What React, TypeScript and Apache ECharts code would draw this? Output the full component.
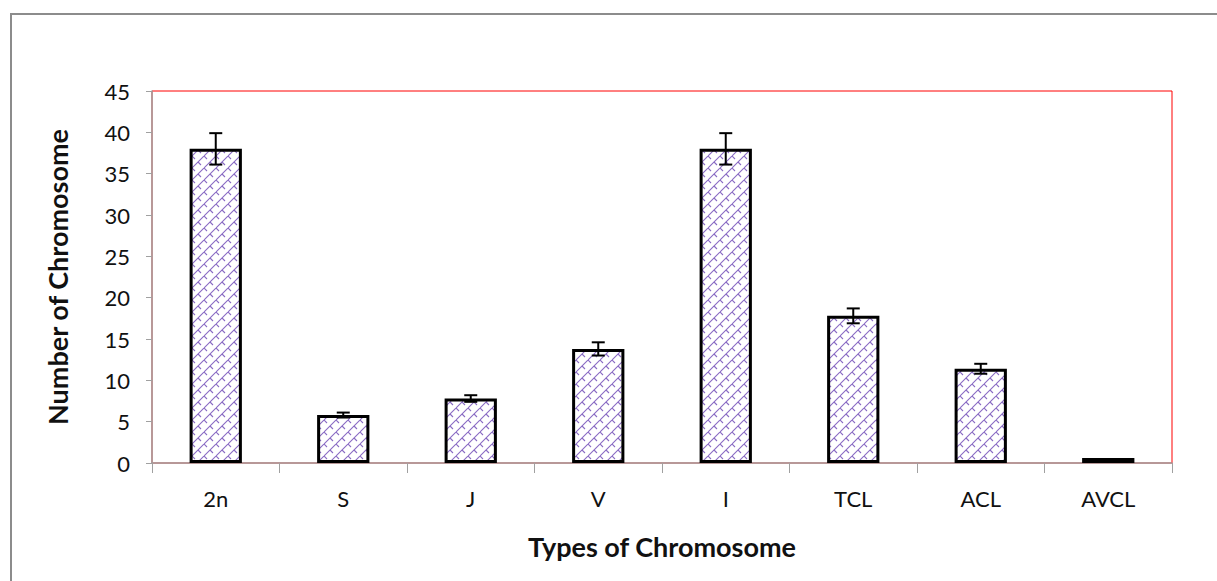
import React, { useEffect, useRef } from "react";
import * as echarts from "echarts";

const categories = ["2n", "S", "J", "V", "I", "TCL", "ACL", "AVCL"];
const values = [38, 5.8, 7.8, 13.8, 38, 17.8, 11.4, 0.6];
const errors = [1.9, 0.3, 0.4, 0.8, 1.9, 0.9, 0.6, 0];
const yTicks = { min: 0, max: 45, interval: 5 };

function makePattern(): string {
  const c = document.createElement("canvas");
  c.width = 12;
  c.height = 12;
  const ctx = c.getContext("2d")!;
  ctx.fillStyle = "#ffffff";
  ctx.fillRect(0, 0, 12, 12);
  ctx.strokeStyle = "#8a6cc4";
  ctx.lineWidth = 1.1;
  ctx.beginPath();
  ctx.moveTo(0, 12);
  ctx.lineTo(12, 0);
  ctx.moveTo(-6, 6);
  ctx.lineTo(0, 0);
  ctx.moveTo(12, 12);
  ctx.lineTo(18, 6);
  ctx.moveTo(6, 6);
  ctx.lineTo(9, 9);
  ctx.moveTo(0, 0);
  ctx.lineTo(3, 3);
  ctx.stroke();
  return c.toDataURL();
}

export default function App() {
  const ref = useRef<HTMLDivElement>(null);
  useEffect(() => {
    const chart = echarts.init(ref.current!, null, { renderer: "svg" });
    const pattern = makePattern();
    const font = "Lato, 'Open Sans', sans-serif";
    chart.setOption({
      animation: false,
      backgroundColor: "#ffffff",
      graphic: [
        {
          type: "rect",
          shape: { x: 11, y: 14, width: 1220, height: 600 },
          style: { fill: "none", stroke: "#8c8c8c", lineWidth: 2 },
          z: -10,
        },
      ],
      grid: {
        left: 152,
        top: 91,
        right: 45,
        bottom: 118,
        show: true,
        borderColor: "#ff0000",
        borderWidth: 1,
        backgroundColor: "transparent",
      },
      xAxis: {
        type: "category",
        data: categories,
        name: "Types of Chromosome",
        nameLocation: "middle",
        nameGap: 70,
        nameTextStyle: { fontFamily: font, fontSize: 27, fontWeight: "bold", color: "#111" },
        axisLine: { lineStyle: { color: "#a0a0a0", width: 1.5 } },
        axisTick: { show: true, alignWithLabel: false, length: 10, lineStyle: { color: "#a0a0a0" } },
        axisLabel: { fontFamily: font, fontSize: 22, color: "#111", margin: 24 },
      },
      yAxis: {
        type: "value",
        min: yTicks.min,
        max: yTicks.max,
        interval: yTicks.interval,
        name: "Number of Chromosome",
        nameLocation: "middle",
        nameGap: 81,
        nameRotate: 90,
        nameTextStyle: { fontFamily: font, fontSize: 27, fontWeight: "bold", color: "#111" },
        splitLine: { show: false },
        axisLine: { show: true, lineStyle: { color: "#a0a0a0", width: 1.5 } },
        axisTick: { show: true, length: 6, lineStyle: { color: "#a0a0a0" } },
        axisLabel: { fontFamily: font, fontSize: 22, color: "#111", margin: 22 },
      },
      series: [
        {
          type: "bar",
          data: values,
          barWidth: "41%",
          itemStyle: {
            color: { image: pattern, repeat: "repeat" },
            borderColor: "#000",
            borderWidth: 3,
          },
        },
        {
          type: "custom",
          data: values.map((v, i) => [i, v, errors[i]]),
          z: 10,
          renderItem: (params: any, api: any) => {
            const i = api.value(0);
            const v = api.value(1);
            const e = api.value(2);
            if (!e) return null;
            const top = api.coord([i, v + e]);
            const bot = api.coord([i, v - e]);
            const hw = 6.5;
            const style = { stroke: "#000", lineWidth: 2 };
            return {
              type: "group",
              children: [
                { type: "line", shape: { x1: top[0], y1: top[1], x2: bot[0], y2: bot[1] }, style },
                { type: "line", shape: { x1: top[0] - hw, y1: top[1], x2: top[0] + hw, y2: top[1] }, style },
                { type: "line", shape: { x1: bot[0] - hw, y1: bot[1], x2: bot[0] + hw, y2: bot[1] }, style },
              ],
            };
          },
        },
      ],
    });
    return () => chart.dispose();
  }, []);
  return (
    <div
      ref={ref}
      style={{ position: "fixed", left: 0, top: 0, width: 1217, height: 581 }}
    />
  );
}
